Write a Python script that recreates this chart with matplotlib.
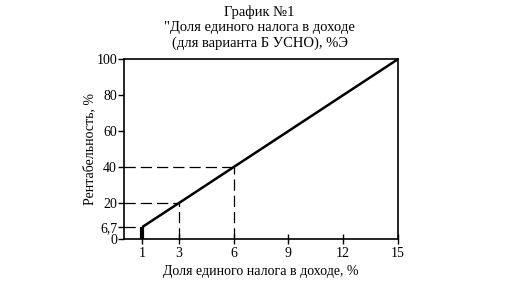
import matplotlib.pyplot as plt

# данные графика
x_vals = [1, 3, 6, 15]
y_vals = [6.7, 20, 40, 100]
guide_x = [1, 3, 6]
guide_y = [6.7, 20, 40]
x_ticks = [1, 3, 6, 9, 12, 15]
y_ticks = [0, 6.7, 20, 40, 60, 80, 100]
y_labels = ['0', '6,7', '20', '40', '60', '80', '100']

plt.rcParams['font.family'] = ['Liberation Serif', 'DejaVu Serif']

fig = plt.figure(figsize=(5.3, 3.0), dpi=100)
ax = fig.add_axes([0.234, 0.203, 0.517, 0.6])

# основная линия
ax.plot(x_vals, y_vals, color='black', lw=1.8, solid_capstyle='butt')
# жирный отрезок при x=1
ax.plot([x_vals[0], x_vals[0]], [0, y_vals[0]], color='black', lw=3, solid_capstyle='butt')

# пунктирные проекции
for gx, gy in zip(guide_x, guide_y):
    ax.plot([0, gx], [gy, gy], color='black', lw=0.9, dashes=(9, 4))
    if gx != 1:
        ax.plot([gx, gx], [0, gy], color='black', lw=0.9, dashes=(9, 4))

ax.set_xlim(0, 15)
ax.set_ylim(0, 100)
ax.set_xticks(x_ticks)
ax.set_yticks(y_ticks)
ax.set_yticklabels(y_labels)
for s in ax.spines.values():
    s.set_linewidth(1.2)
ax.tick_params(axis='x', direction='inout', length=7, width=1, labelsize=10, pad=2)
ax.tick_params(axis='y', direction='out', length=4, width=1, labelsize=10, pad=1)

ax.set_xlabel('Доля единого налога в доходе, %', fontsize=10, labelpad=4)
ax.set_ylabel('Рентабельность, %', fontsize=10, labelpad=0)

fig.text(0.49, 0.96, 'График №1', ha='center', va='center', fontsize=10.5)
fig.text(0.49, 0.91, '"Доля единого налога в доходе', ha='center', va='center', fontsize=10.5)
fig.text(0.49, 0.855, '(для варианта Б УСНО), %Э', ha='center', va='center', fontsize=10.5)

fig.savefig('out.png', dpi=100)
